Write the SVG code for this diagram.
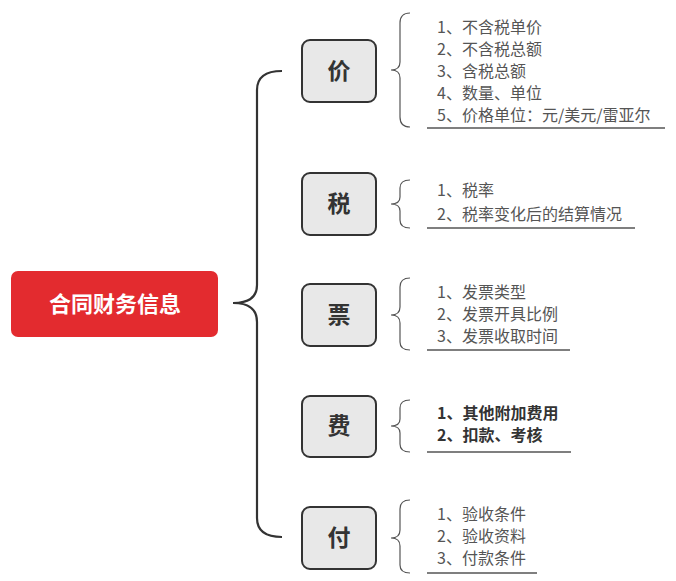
<svg xmlns="http://www.w3.org/2000/svg" width="676" height="581" viewBox="0 0 676 581">
<style>
.root{fill:#E32B2F}
.rt{fill:#fff;font-family:"Noto Sans CJK SC","Noto Sans",sans-serif;font-size:22px;font-weight:bold;text-anchor:middle}
.node{fill:#E8E8E8;stroke:#333;stroke-width:2}
.nt{fill:#333;font-family:"Noto Sans CJK SC","Noto Sans",sans-serif;font-size:23px;font-weight:bold;text-anchor:middle}
.main{fill:none;stroke:#333;stroke-width:2.2}
.br{fill:none;stroke:#555;stroke-width:1.2}
.ul{stroke:#555;stroke-width:1.5}
.it{fill:#555;font-family:"Noto Sans CJK SC","Noto Sans",sans-serif;font-size:16px}
.ib{fill:#333;font-family:"Noto Sans CJK SC","Noto Sans",sans-serif;font-size:16px;font-weight:bold}
</style>
<rect width="676" height="581" fill="#fff"/>
<g id="connectors">
<path class="main" d="M282,71 Q257,71 257,90 L257,285 Q257,303 233,303 Q257,303 257,322 L257,518 Q257,537 282,537"/>
<path class="br" d="M410,13 Q400,13 400,23 L400,62 Q400,70 391,70 Q400,70 400,78 L400,117 Q400,127 410,127"/>
<path class="br" d="M410,180 Q400,180 400,188 L400,197 Q400,204 391,204 Q400,204 400,211 L400,220 Q400,228 410,228"/>
<path class="br" d="M410,278 Q400,278 400,287 L400,307 Q400,315 391,315 Q400,315 400,323 L400,342 Q400,350 410,350"/>
<path class="br" d="M410,400 Q400,400 400,408 L400,419 Q400,426 391,426 Q400,426 400,433 L400,444 Q400,452 410,452"/>
<path class="br" d="M410,500 Q400,500 400,509 L400,530 Q400,538 391,538 Q400,538 400,546 L400,565 Q400,573 410,573"/>
</g>
<g id="root">
<rect class="root" x="11" y="271" width="207" height="66" rx="7"/>
<text class="rt" x="115" y="312">合同财务信息</text>
</g>
<g id="node-jia">
<rect class="node" x="302" y="40" width="74" height="62" rx="8"/>
<text class="nt" x="339" y="79">价</text>
</g>
<g id="node-shui">
<rect class="node" x="302" y="173" width="74" height="62" rx="8"/>
<text class="nt" x="339" y="212">税</text>
</g>
<g id="node-piao">
<rect class="node" x="302" y="284" width="74" height="62" rx="8"/>
<text class="nt" x="339" y="323">票</text>
</g>
<g id="node-fei">
<rect class="node" x="302" y="396" width="74" height="61" rx="8"/>
<text class="nt" x="339" y="434">费</text>
</g>
<g id="node-fu">
<rect class="node" x="302" y="507" width="74" height="62" rx="8"/>
<text class="nt" x="339" y="546">付</text>
</g>
<g id="list-jia">
<text class="it" x="437" y="33">1、不含税单价</text>
<text class="it" x="437" y="55">2、不含税总额</text>
<text class="it" x="437" y="77">3、含税总额</text>
<text class="it" x="437" y="99">4、数量、单位</text>
<text class="it" x="437" y="121">5、价格单位：元/美元/雷亚尔</text>
<line class="ul" x1="427" y1="128" x2="665" y2="128"/>
</g>
<g id="list-shui">
<text class="it" x="437" y="196">1、税率</text>
<text class="it" x="437" y="220">2、税率变化后的结算情况</text>
<line class="ul" x1="427" y1="228" x2="635" y2="228"/>
</g>
<g id="list-piao">
<text class="it" x="437" y="298">1、发票类型</text>
<text class="it" x="437" y="320">2、发票开具比例</text>
<text class="it" x="437" y="342">3、发票收取时间</text>
<line class="ul" x1="427" y1="350" x2="570" y2="350"/>
</g>
<g id="list-fei">
<text class="ib" x="437" y="419">1、其他附加费用</text>
<text class="ib" x="437" y="441">2、扣款、考核</text>
<line class="ul" x1="427" y1="452" x2="571" y2="452"/>
</g>
<g id="list-fu">
<text class="it" x="437" y="520">1、验收条件</text>
<text class="it" x="437" y="542">2、验收资料</text>
<text class="it" x="437" y="564">3、付款条件</text>
<line class="ul" x1="427" y1="573" x2="537" y2="573"/>
</g>
</svg>
